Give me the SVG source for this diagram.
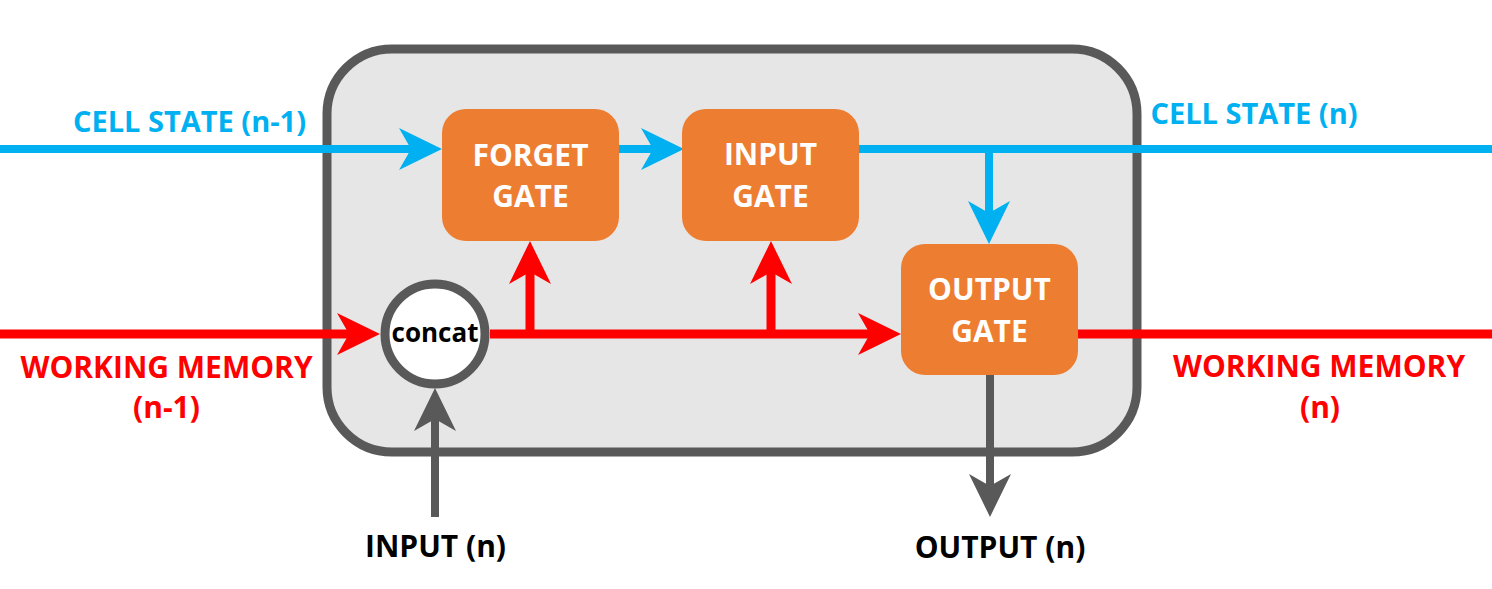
<svg xmlns="http://www.w3.org/2000/svg" width="1492" height="589" viewBox="0 0 1492 589">
<style>
.lbl{font-family:"Open Sans","Liberation Sans",sans-serif;font-weight:700;font-size:30px;text-anchor:middle}
.sm{font-size:29px}
.gate rect{fill:#ed7d31}
.gate text{fill:#ffffff}
.blue{fill:#00b0f0}.red{fill:#ff0000}.blk{fill:#000000}
.cb{stroke:#00b0f0;stroke-width:8;fill:none}
.cr{stroke:#ff0000;stroke-width:9;fill:none}
.cg{stroke:#595959;stroke-width:8;fill:none}
</style>
<defs>
<marker id="ab" markerUnits="userSpaceOnUse" markerWidth="44" markerHeight="44" refX="23" refY="22" orient="auto" overflow="visible"><path d="M0,1 L43,22 L0,43 L12,22 Z" fill="#00b0f0"/></marker>
<marker id="ar" markerUnits="userSpaceOnUse" markerWidth="44" markerHeight="44" refX="23" refY="22" orient="auto" overflow="visible"><path d="M0,1 L43,22 L0,43 L12,22 Z" fill="#ff0000"/></marker>
<marker id="ag" markerUnits="userSpaceOnUse" markerWidth="44" markerHeight="44" refX="23" refY="22" orient="auto" overflow="visible"><path d="M0,1 L43,22 L0,43 L12,22 Z" fill="#595959"/></marker>
</defs>
<rect width="1492" height="589" fill="#ffffff"/>
<g id="cell">
<rect x="327" y="49" width="810" height="403" rx="65" ry="65" fill="#e7e6e6" stroke="#595959" stroke-width="9"/>
</g>
<g id="connectors">
<path class="cb" d="M0,149 H422" marker-end="url(#ab)"/>
<path class="cb" d="M619,149 H664" marker-end="url(#ab)"/>
<path class="cb" d="M859,149 H1492"/>
<path class="cb" d="M989,149 V224" marker-end="url(#ab)"/>
<path class="cr" d="M0,334 H360" marker-end="url(#ar)"/>
<path class="cr" d="M490,334 H881" marker-end="url(#ar)"/>
<path class="cr" d="M530,334 V261" marker-end="url(#ar)"/>
<path class="cr" d="M771,334 V261" marker-end="url(#ar)"/>
<path class="cr" d="M1078,334 H1492"/>
<path class="cg" d="M435,517 V408" marker-end="url(#ag)"/>
<path class="cg" d="M990,375 V497" marker-end="url(#ag)"/>
</g>
<g id="concat">
<circle cx="435" cy="334" r="50" fill="#ffffff" stroke="#595959" stroke-width="9"/>
<text class="lbl blk" x="435" y="342" style="font-size:26px">concat</text>
</g>
<g id="forget-gate" class="gate">
<rect x="442" y="109" width="177" height="132" rx="24"/>
<text class="lbl" x="530.5" y="166">FORGET</text>
<text class="lbl" x="530.5" y="207">GATE</text>
</g>
<g id="input-gate" class="gate">
<rect x="682" y="109" width="177" height="132" rx="24"/>
<text class="lbl" x="770.5" y="165">INPUT</text>
<text class="lbl" x="770.5" y="207">GATE</text>
</g>
<g id="output-gate" class="gate">
<rect x="901" y="244" width="177" height="131" rx="24"/>
<text class="lbl" x="989.5" y="300">OUTPUT</text>
<text class="lbl" x="989.5" y="342">GATE</text>
</g>
<g id="labels">
<text class="lbl sm blue" x="189.5" y="132">CELL STATE (n-1)</text>
<text class="lbl sm blue" x="1254" y="124">CELL STATE (n)</text>
<text class="lbl red" x="166.5" y="378">WORKING MEMORY</text>
<text class="lbl red" x="166.5" y="418">(n-1)</text>
<text class="lbl red" x="1319" y="377">WORKING MEMORY</text>
<text class="lbl red" x="1320" y="418">(n)</text>
<text class="lbl blk" x="435.5" y="557">INPUT (n)</text>
<text class="lbl blk" x="1000" y="558">OUTPUT (n)</text>
</g>
</svg>
